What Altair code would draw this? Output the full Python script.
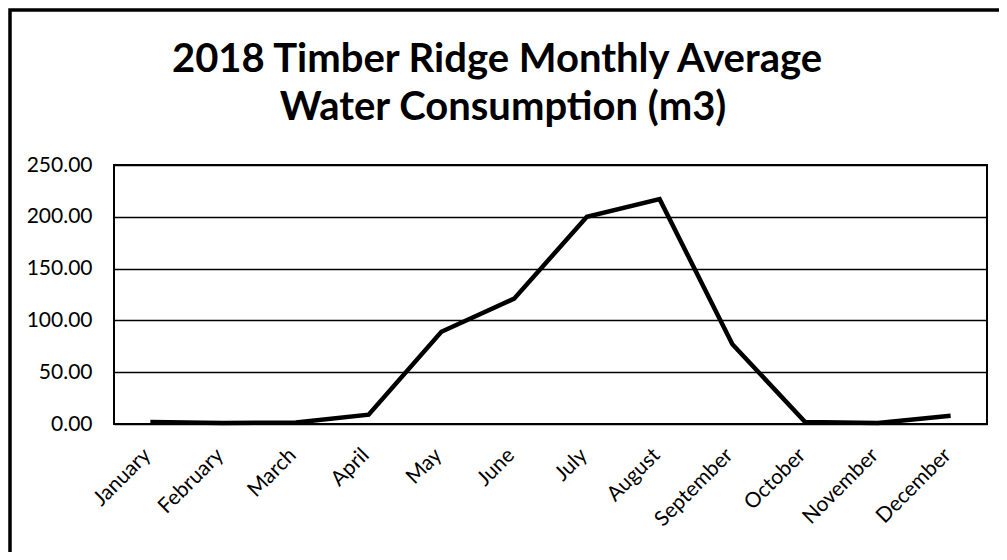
import altair as alt
import pandas as pd

months = ["January", "February", "March", "April", "May", "June",
          "July", "August", "September", "October", "November", "December"]
consumption = [2.0, 1.0, 1.5, 9.0, 89.0, 121.0, 200.0, 217.0, 77.0, 2.0, 1.0, 8.0]
y_ticks = [0, 50, 100, 150, 200, 250]
title_lines = ["2018 Timber Ridge Monthly Average", "Water Consumption (m3)"]

df = pd.DataFrame({"month": months, "value": consumption})
FONT = "Lato"

base = alt.Chart(df)

border = base.mark_rect(fill="white", fillOpacity=0, stroke="black", strokeWidth=3.5,
                        clip=False).encode(
    x=alt.value(-104), x2=alt.value(2000), y=alt.value(-155), y2=alt.value(2000)
).transform_filter("datum.month == 'January'")

title1 = alt.Chart(pd.DataFrame({"t": [title_lines[0]]})).mark_text(
    font=FONT, fontSize=40, fontWeight="bold", color="black",
    align="center", baseline="alphabetic", clip=False
).encode(text="t:N", x=alt.value(383), y=alt.value(-93))

title2 = alt.Chart(pd.DataFrame({"t": [title_lines[1]]})).mark_text(
    font=FONT, fontSize=40, fontWeight="bold", color="black",
    align="center", baseline="alphabetic", clip=False
).encode(text="t:N", x=alt.value(389), y=alt.value(-45))

line = base.mark_line(color="black", strokeWidth=4.5, strokeJoin="miter").encode(
    x=alt.X("month:N", sort=months, title=None,
            axis=alt.Axis(labelAngle=-45, labelFontSize=21, labelColor="black",
                          labelFont=FONT, ticks=False, domain=False, labelPadding=20,
                          labelOffset=-11, grid=False)),
    y=alt.Y("value:Q", title=None, scale=alt.Scale(domain=[0, 250], nice=False),
            axis=alt.Axis(values=y_ticks, format=".2f", labelFontSize=21,
                          labelColor="black", labelFont=FONT, ticks=False,
                          domain=False, labelPadding=22, grid=True,
                          gridColor="black", gridWidth=1.5, gridOpacity=1)),
)

chart = alt.layer(border, line, title1, title2).properties(
    width=873, height=259,
    autosize=alt.AutoSizeParams(type="none"),
    padding={"left": 106, "top": 157, "right": 12, "bottom": 128},
).configure_view(stroke="black", strokeWidth=2)

chart.save("out.html", embed_options={"renderer": "svg", "actions": False})
